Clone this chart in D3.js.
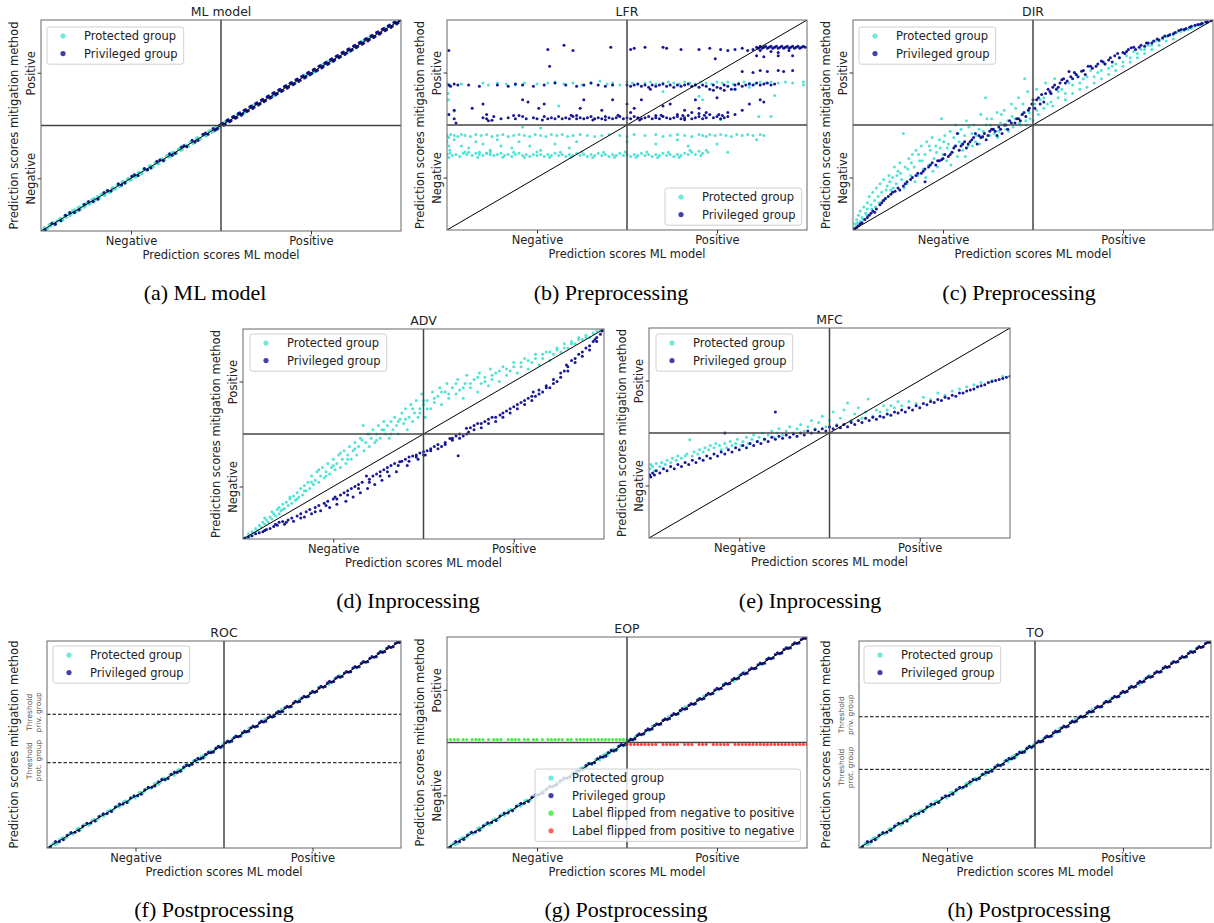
<!DOCTYPE html>
<html>
<head>
<meta charset="utf-8">
<script src="https://cdn.jsdelivr.net/npm/d3@7"></script>
<style>
  body { margin: 0; background: #fff; }
  svg text { font-family: "DejaVu Sans", sans-serif; }
</style>
</head>
<body>
<svg id="fig" width="1214" height="923"></svg>
<script>
// ---- data (scores normalised to 0..1) ----
const tickPos = [0.25, 0.75];
const tickLabels = ['Negative', 'Positive'];

// (a) ML model vs itself
const mlProt = [[0.004,0.0],[0.01,0.016],[0.015,0.008],[0.022,0.03],[0.027,0.022],[0.033,0.041],[0.04,0.034],[0.046,0.05],[0.052,0.058],[0.058,0.049],[0.065,0.072],[0.071,0.064],[0.078,0.086],[0.084,0.079],[0.09,0.097],[0.097,0.09],[0.103,0.111],[0.11,0.104],[0.117,0.125],[0.123,0.118],[0.13,0.135],[0.137,0.13],[0.144,0.152],[0.15,0.143],[0.157,0.165],[0.163,0.158],[0.17,0.176],[0.178,0.171],[0.185,0.193],[0.192,0.185],[0.2,0.206],[0.207,0.2],[0.214,0.222],[0.221,0.213],[0.229,0.236],[0.236,0.231],[0.244,0.25],[0.251,0.244],[0.258,0.266],[0.266,0.259],[0.273,0.28],[0.281,0.274],[0.289,0.296],[0.296,0.29],[0.304,0.31],[0.312,0.305],[0.32,0.327],[0.328,0.32],[0.336,0.343],[0.344,0.336],[0.352,0.36],[0.36,0.353],[0.368,0.374],[0.377,0.37],[0.385,0.393],[0.393,0.386],[0.401,0.408],[0.41,0.402],[0.418,0.427],[0.427,0.419],[0.435,0.443],[0.444,0.437],[0.452,0.46],[0.461,0.453],[0.47,0.477],[0.479,0.471],[0.488,0.495],[0.497,0.49],[0.51,0.516],[0.527,0.521],[0.545,0.553],[0.566,0.559],[0.588,0.596],[0.61,0.603],[0.633,0.641],[0.657,0.65],[0.682,0.69],[0.706,0.699],[0.731,0.739],[0.757,0.75],[0.783,0.79],[0.81,0.803],[0.838,0.846],[0.866,0.859],[0.895,0.902],[0.925,0.918],[0.955,0.962],
  [0.008,0.012],[0.019,0.013],[0.025,0.032],[0.037,0.029],[0.043,0.044],[0.055,0.06],[0.061,0.053],[0.069,0.077],[0.081,0.074],[0.087,0.094],[0.094,0.101],[0.1,0.095],[0.108,0.115],[0.12,0.113],[0.127,0.134],[0.134,0.127],[0.141,0.148],[0.148,0.155],[0.16,0.153],[0.167,0.174],[0.175,0.168],[0.182,0.19],[0.189,0.181],[0.197,0.204],[0.204,0.197],[0.211,0.219],[0.218,0.211],[0.225,0.232],[0.233,0.226],[0.24,0.248],[0.247,0.239],[0.255,0.262],[0.262,0.255],[0.27,0.277],[0.278,0.27],[0.285,0.293],[0.293,0.285],[0.3,0.308],[0.308,0.3],[0.316,0.322],[0.324,0.317],[0.332,0.34],[0.34,0.332],[0.348,0.355],[0.356,0.349],[0.364,0.372],[0.373,0.365],[0.381,0.388],[0.389,0.382],[0.397,0.404],[0.406,0.399],[0.414,0.421],[0.422,0.415],[0.431,0.438],[0.44,0.432],[0.448,0.455],[0.457,0.45],[0.466,0.473],[0.475,0.467],[0.484,0.49],[0.493,0.487],[0.52,0.527],[0.556,0.55],[0.6,0.607],[0.645,0.639],[0.694,0.701],[0.745,0.739],[0.797,0.804],[0.852,0.846],[0.91,0.915]];
const mlPriv = [[0.012,0.004],[0.03,0.036],[0.055,0.048],[0.08,0.088],[0.106,0.099],[0.132,0.14],[0.158,0.151],[0.175,0.182],[0.195,0.19],[0.215,0.224],[0.233,0.227],[0.252,0.26],[0.27,0.263],[0.287,0.296],[0.305,0.298],[0.322,0.33],[0.34,0.333],[0.357,0.366],[0.373,0.368],[0.39,0.398],[0.405,0.399],[0.42,0.43],[0.436,0.429],[0.45,0.459],[0.464,0.458],[0.478,0.486],[0.49,0.484],[0.5,0.507],[0.508,0.501],[0.516,0.524],[0.524,0.518],[0.532,0.54],[0.54,0.534],[0.548,0.557],[0.556,0.549],[0.564,0.572],[0.572,0.566],[0.58,0.589],[0.588,0.581],[0.596,0.604],[0.604,0.597],[0.612,0.621],[0.62,0.613],[0.628,0.636],[0.636,0.629],[0.644,0.653],[0.652,0.645],[0.66,0.668],[0.668,0.661],[0.676,0.685],[0.684,0.677],[0.692,0.7],[0.7,0.693],[0.708,0.717],[0.716,0.709],[0.724,0.732],[0.732,0.725],[0.74,0.749],[0.748,0.741],[0.756,0.764],[0.764,0.757],[0.772,0.781],[0.78,0.773],[0.788,0.796],[0.796,0.789],[0.804,0.813],[0.812,0.805],[0.82,0.828],[0.828,0.821],[0.836,0.845],[0.844,0.837],[0.852,0.86],[0.86,0.853],[0.868,0.877],[0.876,0.869],[0.884,0.892],[0.892,0.885],[0.9,0.909],[0.908,0.901],[0.916,0.924],[0.924,0.917],[0.932,0.941],[0.94,0.933],[0.948,0.956],[0.956,0.949],[0.964,0.972],[0.972,0.965],[0.98,0.988],[0.988,0.981],[0.996,0.998],
  [0.04,0.032],[0.068,0.075],[0.093,0.087],[0.12,0.127],[0.145,0.139],[0.185,0.192],[0.224,0.218],[0.26,0.267],[0.296,0.29],[0.33,0.337],[0.365,0.359],[0.397,0.404],[0.428,0.422],[0.457,0.464],[0.484,0.478],[0.495,0.5],[0.504,0.511],[0.512,0.506],[0.52,0.527],[0.528,0.522],[0.536,0.544],[0.544,0.538],[0.552,0.56],[0.56,0.554],[0.568,0.576],[0.576,0.57],[0.584,0.592],[0.592,0.586],[0.6,0.608],[0.608,0.602],[0.616,0.624],[0.624,0.618],[0.632,0.64],[0.64,0.634],[0.648,0.656],[0.656,0.65],[0.664,0.672],[0.672,0.666],[0.68,0.688],[0.688,0.682],[0.696,0.704],[0.704,0.698],[0.712,0.72],[0.72,0.714],[0.728,0.736],[0.736,0.73],[0.744,0.752],[0.752,0.746],[0.76,0.768],[0.768,0.762],[0.776,0.784],[0.784,0.778],[0.792,0.8],[0.8,0.794],[0.808,0.816],[0.816,0.81],[0.824,0.832],[0.832,0.826],[0.84,0.848],[0.848,0.842],[0.856,0.864],[0.864,0.858],[0.872,0.88],[0.88,0.874],[0.888,0.896],[0.896,0.89],[0.904,0.912],[0.912,0.906],[0.92,0.928],[0.928,0.922],[0.936,0.944],[0.944,0.938],[0.952,0.96],[0.96,0.954],[0.968,0.976],[0.976,0.97],[0.984,0.99],[0.992,0.987]];

// (b) LFR
const lfrProt = [[0.0,0.70],[0.006,0.69],[0.04,0.695],[0.1,0.70],[0.115,0.69],[0.14,0.70],[0.165,0.695],[0.19,0.69],[0.215,0.70],[0.25,0.695],[0.28,0.70],[0.3,0.705],[0.325,0.695],[0.35,0.70],[0.375,0.69],[0.4,0.70],[0.425,0.71],[0.445,0.695],[0.46,0.70],[0.48,0.69],[0.5,0.705],[0.515,0.70],[0.53,0.695],[0.55,0.70],[0.565,0.705],[0.58,0.695],[0.6,0.70],[0.615,0.705],[0.63,0.70],[0.645,0.695],[0.66,0.705],[0.675,0.70],[0.69,0.695],[0.705,0.705],[0.72,0.70],[0.735,0.695],[0.75,0.705],[0.765,0.70],[0.78,0.705],[0.795,0.695],[0.81,0.70],[0.825,0.705],[0.84,0.70],[0.855,0.695],[0.87,0.705],[0.885,0.70],[0.9,0.705],[0.92,0.70],[0.94,0.705],[0.96,0.70],[0.99,0.705],[0.99,0.69],
  [0.003,0.65],[0.004,0.62],[0.02,0.565],[0.31,0.59],[0.21,0.49],[0.26,0.486],[0.7,0.637],[0.71,0.62],[0.76,0.525],[0.866,0.54],[0.9,0.54],[0.91,0.64],[0.8,0.67],[0.84,0.68],[0.6,0.66],
  [0.0,0.45],[0.005,0.44],[0.01,0.455],[0.02,0.45],[0.03,0.445],[0.04,0.455],[0.05,0.45],[0.065,0.445],[0.08,0.455],[0.095,0.45],[0.11,0.455],[0.125,0.445],[0.14,0.45],[0.155,0.455],[0.17,0.445],[0.185,0.45],[0.2,0.455],[0.215,0.45],[0.23,0.445],[0.245,0.455],[0.26,0.45],[0.275,0.445],[0.29,0.455],[0.305,0.45],[0.32,0.455],[0.335,0.445],[0.35,0.45],[0.37,0.455],[0.39,0.45],[0.41,0.445],[0.43,0.45],[0.45,0.455],[0.48,0.45],[0.5,0.445],[0.52,0.455],[0.55,0.45],[0.58,0.455],[0.6,0.445],[0.62,0.45],[0.64,0.455],[0.66,0.45],[0.68,0.445],[0.7,0.455],[0.71,0.45],[0.72,0.445],[0.73,0.455],[0.745,0.45],[0.76,0.455],[0.775,0.45],[0.79,0.445],[0.805,0.455],[0.82,0.45],[0.835,0.455],[0.85,0.45],[0.87,0.455],[0.88,0.45],
  [0.0,0.42],[0.005,0.40],[0.008,0.38],[0.02,0.43],[0.04,0.40],[0.06,0.39],[0.08,0.42],[0.1,0.41],[0.12,0.38],[0.14,0.43],[0.15,0.40],[0.18,0.39],[0.2,0.42],[0.23,0.40],[0.26,0.38],[0.3,0.41],[0.34,0.39],[0.36,0.42],[0.5,0.42],[0.58,0.41],[0.64,0.43],[0.67,0.40],[0.72,0.38],[0.75,0.41],[0.78,0.37],[0.86,0.43],[0.09,0.37],[0.11,0.365],[0.06,0.37],
  [0.0,0.36],[0.008,0.365],[0.015,0.355],[0.025,0.36],[0.035,0.35],[0.045,0.365],[0.055,0.36],[0.07,0.355],[0.08,0.365],[0.09,0.36],[0.1,0.355],[0.11,0.365],[0.12,0.36],[0.13,0.355],[0.14,0.36],[0.15,0.365],[0.16,0.355],[0.17,0.36],[0.18,0.35],[0.19,0.36],[0.2,0.365],[0.21,0.355],[0.22,0.36],[0.23,0.35],[0.24,0.36],[0.25,0.355],[0.26,0.36],[0.27,0.35],[0.28,0.36],[0.29,0.355],[0.3,0.365],[0.31,0.355],[0.32,0.36],[0.33,0.35],[0.34,0.36],[0.35,0.355],[0.36,0.365],[0.37,0.355],[0.38,0.36],[0.39,0.35],[0.4,0.36],[0.41,0.355],[0.42,0.365],[0.43,0.355],[0.44,0.36],[0.45,0.35],[0.46,0.36],[0.47,0.355],[0.48,0.365],[0.49,0.355],[0.5,0.36],[0.51,0.35],[0.52,0.36],[0.53,0.355],[0.54,0.365],[0.55,0.355],[0.56,0.36],[0.57,0.35],[0.58,0.36],[0.59,0.355],[0.6,0.365],[0.61,0.355],[0.62,0.36],[0.63,0.35],[0.64,0.36],[0.65,0.355],[0.66,0.365],[0.67,0.36],[0.68,0.37],[0.69,0.36],[0.7,0.375],[0.71,0.365],[0.725,0.37],
  [0.005,0.345],[0.05,0.372],[0.085,0.345],[0.12,0.372],[0.155,0.347],[0.185,0.37],[0.215,0.345],[0.25,0.372],[0.285,0.346],[0.315,0.37],[0.345,0.347],[0.375,0.371],[0.405,0.345],[0.435,0.37],[0.465,0.346],[0.495,0.371],[0.525,0.346],[0.555,0.372],[0.585,0.345],[0.615,0.37],[0.645,0.347],[0.675,0.38],[0.705,0.355]];
const lfrPriv = [[0.005,0.855],[0.28,0.86],[0.325,0.88],[0.35,0.855],[0.455,0.87],[0.51,0.86],[0.52,0.865],[0.55,0.87],[0.6,0.87],[0.61,0.865],[0.65,0.86],[0.7,0.86],[0.73,0.865],[0.76,0.86],[0.78,0.855],[0.8,0.86],[0.82,0.865],[0.835,0.855],[0.85,0.86],
  [0.86,0.87],[0.865,0.865],[0.87,0.875],[0.875,0.865],[0.88,0.87],[0.885,0.875],[0.89,0.865],[0.895,0.87],[0.9,0.875],[0.905,0.865],[0.91,0.87],[0.915,0.875],[0.92,0.865],[0.925,0.87],[0.93,0.875],[0.935,0.865],[0.94,0.87],[0.945,0.875],[0.95,0.865],[0.955,0.87],[0.96,0.875],[0.965,0.865],[0.97,0.87],[0.975,0.875],[0.98,0.865],[0.985,0.87],[0.99,0.875],[0.995,0.87],[0.87,0.855],[0.9,0.85],[0.95,0.855],[0.92,0.845],
  [0.285,0.78],[0.745,0.815],[0.86,0.83],[0.88,0.825],[0.92,0.83],[0.96,0.83],[0.82,0.755],[0.85,0.75],[0.87,0.76],[0.89,0.755],[0.92,0.76],[0.935,0.755],[0.96,0.76],
  [0.005,0.69],[0.01,0.685],[0.02,0.695],[0.03,0.69],[0.06,0.69],[0.09,0.685],[0.14,0.69],[0.17,0.685],[0.19,0.695],[0.21,0.69],[0.24,0.685],[0.27,0.69],[0.3,0.7],[0.33,0.69],[0.36,0.685],[0.38,0.69],[0.4,0.7],[0.42,0.69],[0.44,0.685],[0.46,0.69],
  [0.5,0.69],[0.51,0.685],[0.52,0.69],[0.53,0.695],[0.54,0.685],[0.55,0.69],[0.56,0.68],[0.57,0.69],[0.58,0.685],[0.59,0.69],[0.6,0.695],[0.61,0.685],[0.62,0.69],[0.63,0.68],[0.64,0.69],[0.65,0.685],[0.66,0.69],[0.67,0.695],[0.68,0.685],[0.69,0.69],[0.7,0.68],[0.71,0.69],[0.72,0.685],[0.73,0.67],[0.74,0.69],[0.75,0.68],[0.76,0.675],[0.77,0.69],[0.78,0.685],[0.79,0.67],[0.8,0.69],[0.81,0.695],[0.82,0.685],[0.83,0.69],[0.84,0.695],[0.85,0.69],[0.86,0.7],[0.87,0.69],[0.88,0.695],[0.89,0.7],[0.9,0.69],[0.91,0.695],[0.565,0.67],[0.74,0.665],[0.77,0.665],[0.8,0.67],
  [0.07,0.58],[0.02,0.57],[0.1,0.6],[0.11,0.55],[0.115,0.52],[0.21,0.62],[0.225,0.61],[0.255,0.58],[0.27,0.6],[0.37,0.58],[0.38,0.62],[0.43,0.57],[0.46,0.62],[0.5,0.6],[0.51,0.56],[0.52,0.58],[0.54,0.62],[0.6,0.59],[0.62,0.6],[0.64,0.55],[0.66,0.57],[0.69,0.62],[0.7,0.58],[0.68,0.56],[0.75,0.63],[0.78,0.56],[0.8,0.55],[0.82,0.57],[0.84,0.6],[0.87,0.62],[0.88,0.61],
  [0.005,0.55],[0.02,0.53],[0.025,0.51],[0.1,0.535],[0.11,0.53],[0.13,0.54],[0.15,0.53],[0.17,0.535],[0.19,0.53],[0.21,0.54],[0.22,0.53],[0.24,0.535],[0.25,0.53],[0.27,0.54],[0.28,0.53],[0.29,0.535],[0.3,0.53],[0.31,0.54],[0.32,0.53],[0.33,0.535],[0.34,0.53],[0.35,0.54],[0.36,0.53],[0.37,0.535],[0.38,0.53],[0.39,0.535],[0.4,0.54],[0.41,0.53],[0.42,0.535],[0.43,0.53],[0.44,0.54],[0.45,0.535],[0.46,0.53],[0.47,0.535],[0.48,0.54],[0.49,0.53],[0.5,0.535],[0.51,0.53],[0.52,0.54],[0.53,0.535],[0.54,0.53],[0.55,0.535],[0.56,0.54],[0.57,0.53],[0.58,0.535],[0.59,0.53],[0.6,0.54],[0.61,0.535],[0.62,0.53],[0.63,0.535],[0.64,0.54],[0.65,0.53],[0.66,0.535],[0.67,0.545],[0.68,0.53],[0.69,0.535],[0.7,0.54],[0.71,0.53],[0.72,0.535],[0.73,0.55],[0.74,0.535],[0.75,0.54],[0.76,0.53],[0.77,0.535],[0.78,0.54],[0.2,0.545],[0.36,0.545],[0.44,0.525],[0.58,0.545],[0.66,0.525],[0.7,0.555],[0.72,0.56],
  [0.125,0.523],[0.185,0.545],[0.265,0.524],[0.345,0.546],[0.405,0.524],[0.475,0.546],[0.535,0.524],[0.595,0.546],[0.655,0.545],[0.715,0.547],[0.755,0.55],[0.765,0.545]];

// (c) DIR
const dirProt = [[0.003,0.01],[0.005,0.03],[0.01,0.02],[0.01,0.05],[0.015,0.07],[0.02,0.04],[0.02,0.09],[0.025,0.06],[0.03,0.11],[0.035,0.08],[0.04,0.13],[0.04,0.1],[0.045,0.16],[0.05,0.12],[0.055,0.18],[0.06,0.14],[0.065,0.2],[0.07,0.16],[0.075,0.22],[0.08,0.18],[0.085,0.24],[0.09,0.15],[0.095,0.21],[0.1,0.26],[0.105,0.19],[0.11,0.25],[0.115,0.3],[0.12,0.22],[0.125,0.28],[0.13,0.32],[0.135,0.24],[0.14,0.46],[0.145,0.3],[0.15,0.22],[0.155,0.34],[0.16,0.26],[0.165,0.36],[0.17,0.3],[0.175,0.38],[0.18,0.26],[0.185,0.33],[0.19,0.4],[0.195,0.29],[0.2,0.36],[0.205,0.42],[0.21,0.31],[0.215,0.38],[0.22,0.44],[0.225,0.34],[0.23,0.4],[0.235,0.3],[0.24,0.43],[0.246,0.53],[0.25,0.36],[0.255,0.45],[0.26,0.33],[0.265,0.41],[0.27,0.47],[0.275,0.37],[0.28,0.44],[0.285,0.5],[0.29,0.35],[0.295,0.42],[0.3,0.48],[0.305,0.38],[0.31,0.45],[0.315,0.52],[0.32,0.4],[0.33,0.46],[0.335,0.5],[0.34,0.42],[0.35,0.48],[0.355,0.55],[0.36,0.44],[0.368,0.63],[0.37,0.5],[0.38,0.45],[0.385,0.53],[0.39,0.48],[0.4,0.56],[0.405,0.47],[0.41,0.51],[0.42,0.57],[0.425,0.48],[0.43,0.52],[0.44,0.6],[0.445,0.49],[0.45,0.53],[0.46,0.63],[0.465,0.5],[0.47,0.55],[0.477,0.72],[0.48,0.52],[0.485,0.66],[0.49,0.56],[0.5,0.52],[0.505,0.6],[0.51,0.67],[0.515,0.55],[0.52,0.62],[0.53,0.58],[0.535,0.7],[0.54,0.6],[0.55,0.65],[0.555,0.59],[0.56,0.72],[0.57,0.63],[0.58,0.67],[0.59,0.62],[0.6,0.7],[0.61,0.65],[0.62,0.74],[0.63,0.67],[0.64,0.72],[0.65,0.68],[0.66,0.76],[0.67,0.7],[0.68,0.75],[0.69,0.72],[0.7,0.79],[0.71,0.74],[0.72,0.78],[0.73,0.76],[0.74,0.82],[0.75,0.78],[0.76,0.83],[0.77,0.8],[0.78,0.85],[0.79,0.82],[0.8,0.86],[0.81,0.84],[0.82,0.88],[0.83,0.86],[0.84,0.9],[0.85,0.88],[0.86,0.91],[0.87,0.9],[0.88,0.93],[0.89,0.91],[0.9,0.94],[0.92,0.95],[0.94,0.96],[0.96,0.975],[0.98,0.99],
  [0.012,0.035],[0.028,0.05],[0.038,0.07],[0.052,0.1],[0.062,0.11],[0.072,0.13],[0.082,0.14],[0.092,0.19],[0.102,0.23],[0.112,0.2],[0.122,0.26],[0.132,0.27],[0.142,0.2],[0.152,0.29],[0.162,0.32],[0.172,0.23],[0.182,0.36],[0.192,0.33],[0.202,0.25],[0.212,0.4],[0.222,0.28],[0.232,0.37],[0.242,0.39],[0.252,0.42],[0.262,0.39],[0.272,0.31],[0.282,0.4],[0.292,0.46],[0.302,0.41],[0.312,0.35],[0.322,0.49],[0.332,0.4],[0.342,0.45],[0.352,0.41],[0.362,0.47],[0.372,0.53],[0.382,0.5],[0.392,0.46],[0.402,0.44],[0.412,0.55],[0.422,0.5],[0.432,0.47],[0.442,0.54],[0.452,0.58],[0.462,0.51],[0.472,0.6],[0.482,0.5],[0.492,0.53],[0.51,0.57],[0.53,0.63],[0.55,0.61],[0.57,0.66],[0.59,0.65],[0.61,0.69],[0.63,0.7],[0.65,0.73],[0.67,0.73],[0.69,0.76],[0.71,0.77],[0.73,0.79],[0.75,0.8],[0.77,0.82],[0.79,0.84],[0.81,0.86],[0.83,0.88],[0.85,0.9],[0.87,0.92],[0.89,0.93],[0.91,0.945],[0.93,0.955],[0.95,0.97],[0.97,0.98]];
const dirPriv = [[0.005,0.006],[0.015,0.02],[0.025,0.035],[0.033,0.05],[0.04,0.06],[0.05,0.08],[0.055,0.09],[0.065,0.1],[0.075,0.12],[0.085,0.14],[0.098,0.16],[0.105,0.17],[0.117,0.185],[0.125,0.2],[0.14,0.21],[0.15,0.23],[0.16,0.24],[0.175,0.26],[0.19,0.27],[0.2,0.23],[0.2,0.29],[0.21,0.3],[0.22,0.32],[0.23,0.31],[0.24,0.33],[0.246,0.335],[0.255,0.36],[0.265,0.35],[0.275,0.37],[0.285,0.4],[0.29,0.46],[0.295,0.38],[0.305,0.41],[0.315,0.39],[0.325,0.42],[0.33,0.43],[0.34,0.46],[0.345,0.41],[0.355,0.44],[0.36,0.445],[0.37,0.43],[0.38,0.47],[0.39,0.48],[0.4,0.45],[0.405,0.49],[0.414,0.46],[0.42,0.5],[0.43,0.48],[0.44,0.51],[0.45,0.51],[0.46,0.53],[0.47,0.55],[0.48,0.54],[0.487,0.57],[0.497,0.6],[0.5,0.62],[0.505,0.58],[0.515,0.63],[0.524,0.645],[0.53,0.61],[0.542,0.67],[0.55,0.65],[0.56,0.69],[0.57,0.68],[0.58,0.715],[0.59,0.7],[0.6,0.755],[0.61,0.72],[0.62,0.74],[0.635,0.756],[0.645,0.74],[0.653,0.78],[0.665,0.77],[0.68,0.79],[0.69,0.805],[0.7,0.79],[0.715,0.82],[0.727,0.83],[0.74,0.82],[0.75,0.845],[0.76,0.85],[0.773,0.868],[0.785,0.86],[0.8,0.88],[0.81,0.875],[0.82,0.89],[0.835,0.9],[0.85,0.905],[0.866,0.924],[0.88,0.93],[0.895,0.94],[0.912,0.955],[0.925,0.96],[0.94,0.97],[0.958,0.979],[0.97,0.985],[0.98,0.99],[0.995,0.996],
  [0.01,0.012],[0.02,0.03],[0.045,0.07],[0.06,0.085],[0.08,0.13],[0.09,0.15],[0.11,0.18],[0.13,0.19],[0.145,0.22],[0.165,0.25],[0.18,0.27],[0.195,0.28],[0.215,0.31],[0.235,0.33],[0.25,0.34],[0.27,0.36],[0.28,0.39],[0.3,0.4],[0.31,0.42],[0.32,0.41],[0.335,0.44],[0.35,0.45],[0.365,0.46],[0.375,0.45],[0.385,0.48],[0.395,0.47],[0.41,0.48],[0.425,0.5],[0.435,0.52],[0.455,0.53],[0.465,0.52],[0.475,0.56],[0.49,0.58],[0.51,0.62],[0.52,0.6],[0.535,0.65],[0.547,0.66],[0.555,0.68],[0.565,0.67],[0.575,0.7],[0.585,0.72],[0.595,0.71],[0.605,0.73],[0.615,0.75],[0.625,0.73],[0.64,0.76],[0.66,0.78],[0.675,0.78],[0.695,0.8],[0.71,0.81],[0.72,0.8],[0.735,0.84],[0.755,0.84],[0.765,0.86],[0.78,0.87],[0.795,0.87],[0.815,0.89],[0.83,0.89],[0.845,0.91],[0.86,0.915],[0.875,0.925],[0.89,0.935],[0.905,0.95],[0.92,0.955],[0.935,0.965],[0.95,0.975],[0.965,0.98],[0.985,0.99]];

// (d) ADV
const advProt = [[0.003,0.005],[0.01,0.01],[0.015,0.025],[0.02,0.015],[0.025,0.035],[0.03,0.03],[0.035,0.05],[0.04,0.04],[0.045,0.065],[0.05,0.055],[0.055,0.08],[0.06,0.07],[0.065,0.09],[0.07,0.08],[0.075,0.105],[0.08,0.095],[0.085,0.12],[0.09,0.11],[0.095,0.14],[0.1,0.12],[0.1,0.15],[0.105,0.135],[0.11,0.165],[0.115,0.145],[0.12,0.175],[0.125,0.16],[0.13,0.19],[0.135,0.17],[0.14,0.205],[0.145,0.185],[0.15,0.22],[0.155,0.2],[0.16,0.24],[0.165,0.21],[0.17,0.255],[0.175,0.23],[0.18,0.27],[0.185,0.24],[0.19,0.3],[0.195,0.26],[0.2,0.28],[0.205,0.32],[0.21,0.27],[0.215,0.3],[0.22,0.34],[0.225,0.29],[0.23,0.32],[0.235,0.36],[0.24,0.31],[0.245,0.34],[0.25,0.38],[0.255,0.33],[0.26,0.36],[0.265,0.4],[0.27,0.34],[0.275,0.38],[0.28,0.42],[0.285,0.36],[0.29,0.4],[0.295,0.44],[0.3,0.38],[0.305,0.42],[0.31,0.46],[0.315,0.4],[0.32,0.44],[0.325,0.48],[0.333,0.54],[0.335,0.42],[0.34,0.46],[0.345,0.5],[0.35,0.44],[0.355,0.48],[0.36,0.52],[0.365,0.46],[0.37,0.5],[0.375,0.54],[0.38,0.48],[0.385,0.52],[0.39,0.56],[0.395,0.5],[0.4,0.54],[0.405,0.48],[0.41,0.56],[0.415,0.52],[0.42,0.58],[0.425,0.54],[0.43,0.5],[0.435,0.57],[0.44,0.6],[0.445,0.55],[0.45,0.62],[0.455,0.52],[0.46,0.58],[0.465,0.64],[0.47,0.56],[0.475,0.6],[0.48,0.66],[0.485,0.58],[0.49,0.62],[0.495,0.69],[0.5,0.64],[0.505,0.58],[0.51,0.66],[0.52,0.62],[0.525,0.7],[0.53,0.65],[0.54,0.68],[0.545,0.72],[0.55,0.64],[0.56,0.7],[0.565,0.74],[0.57,0.67],[0.58,0.72],[0.59,0.69],[0.595,0.76],[0.6,0.71],[0.61,0.67],[0.615,0.74],[0.62,0.78],[0.63,0.72],[0.64,0.76],[0.65,0.7],[0.655,0.79],[0.66,0.74],[0.67,0.77],[0.68,0.73],[0.685,0.81],[0.69,0.76],[0.7,0.79],[0.71,0.75],[0.72,0.82],[0.73,0.78],[0.74,0.8],[0.75,0.84],[0.76,0.79],[0.77,0.82],[0.78,0.86],[0.79,0.81],[0.8,0.84],[0.81,0.88],[0.82,0.83],[0.83,0.86],[0.84,0.89],[0.85,0.85],[0.86,0.88],[0.87,0.91],[0.88,0.89],[0.89,0.93],[0.9,0.91],[0.91,0.94],[0.92,0.93],[0.93,0.96],[0.94,0.95],[0.95,0.97],[0.96,0.96],[0.97,0.98],[0.98,0.99],[0.99,0.995],
  [0.06,0.1],[0.08,0.13],[0.11,0.14],[0.13,0.2],[0.15,0.19],[0.17,0.23],[0.19,0.27],[0.21,0.33],[0.23,0.3],[0.25,0.35],[0.27,0.41],[0.29,0.38],[0.31,0.43],[0.33,0.47],[0.35,0.5],[0.37,0.47],[0.39,0.52],[0.41,0.5],[0.43,0.56],[0.45,0.57],[0.47,0.62],[0.49,0.6],[0.5,0.66],[0.51,0.62],[0.53,0.67],[0.55,0.7],[0.57,0.69],[0.59,0.74],[0.61,0.72],[0.63,0.74],[0.65,0.77],[0.67,0.75],[0.69,0.78],[0.71,0.8],[0.73,0.81],[0.75,0.82],[0.77,0.84],[0.79,0.85],[0.81,0.86],[0.83,0.88],[0.85,0.89],[0.87,0.9],[0.89,0.91],[0.91,0.93],[0.93,0.95],[0.95,0.96]];
const advPriv = [[0.005,0.003],[0.015,0.01],[0.025,0.015],[0.035,0.025],[0.045,0.03],[0.055,0.035],[0.065,0.045],[0.075,0.05],[0.085,0.06],[0.095,0.065],[0.1,0.08],[0.11,0.083],[0.115,0.07],[0.125,0.09],[0.135,0.1],[0.14,0.085],[0.15,0.11],[0.16,0.12],[0.17,0.105],[0.175,0.13],[0.185,0.14],[0.19,0.12],[0.2,0.15],[0.21,0.16],[0.215,0.135],[0.225,0.17],[0.235,0.18],[0.24,0.15],[0.25,0.19],[0.255,0.2],[0.26,0.165],[0.27,0.21],[0.28,0.22],[0.285,0.18],[0.29,0.23],[0.3,0.24],[0.305,0.2],[0.31,0.25],[0.32,0.26],[0.325,0.22],[0.33,0.27],[0.342,0.3],[0.345,0.24],[0.35,0.285],[0.36,0.3],[0.365,0.26],[0.37,0.31],[0.38,0.32],[0.385,0.28],[0.39,0.33],[0.4,0.34],[0.405,0.3],[0.41,0.35],[0.42,0.36],[0.425,0.32],[0.434,0.368],[0.44,0.37],[0.45,0.38],[0.455,0.35],[0.46,0.39],[0.47,0.395],[0.48,0.4],[0.485,0.38],[0.49,0.41],[0.5,0.416],[0.505,0.4],[0.51,0.42],[0.52,0.43],[0.53,0.44],[0.54,0.45],[0.55,0.44],[0.56,0.46],[0.573,0.479],[0.58,0.47],[0.59,0.49],[0.596,0.397],[0.6,0.5],[0.61,0.49],[0.619,0.527],[0.625,0.51],[0.63,0.53],[0.64,0.52],[0.65,0.55],[0.66,0.53],[0.67,0.56],[0.68,0.55],[0.69,0.58],[0.7,0.56],[0.712,0.59],[0.72,0.58],[0.73,0.61],[0.74,0.6],[0.75,0.63],[0.76,0.62],[0.77,0.65],[0.78,0.64],[0.79,0.67],[0.8,0.66],[0.804,0.7],[0.81,0.68],[0.82,0.71],[0.83,0.7],[0.84,0.73],[0.85,0.72],[0.86,0.76],[0.87,0.75],[0.88,0.79],[0.89,0.8],[0.896,0.829],[0.9,0.82],[0.91,0.85],[0.92,0.86],[0.93,0.88],[0.94,0.89],[0.95,0.91],[0.96,0.92],[0.97,0.94],[0.975,0.95],[0.98,0.96],[0.99,0.975],[0.995,0.99],
  [0.06,0.04],[0.09,0.07],[0.12,0.08],[0.16,0.1],[0.2,0.13],[0.23,0.16],[0.26,0.19],[0.29,0.21],[0.32,0.24],[0.35,0.27],[0.38,0.3],[0.4,0.32],[0.43,0.35],[0.46,0.37],[0.48,0.39],[0.5,0.4],[0.52,0.42],[0.54,0.43],[0.56,0.45],[0.58,0.48],[0.6,0.48],[0.62,0.5],[0.64,0.54],[0.66,0.55],[0.68,0.57],[0.7,0.58],[0.72,0.6],[0.74,0.62],[0.76,0.64],[0.78,0.66],[0.8,0.68],[0.82,0.69],[0.84,0.72],[0.86,0.74],[0.88,0.77],[0.9,0.8],[0.92,0.84],[0.94,0.87],[0.96,0.9],[0.98,0.94]];

// (e) MFC
const mfcProt = [[0.003,0.33],[0.005,0.35],[0.01,0.34],[0.015,0.32],[0.02,0.355],[0.03,0.34],[0.035,0.36],[0.045,0.35],[0.05,0.37],[0.06,0.36],[0.065,0.38],[0.075,0.37],[0.08,0.39],[0.09,0.38],[0.1,0.39],[0.105,0.4],[0.113,0.468],[0.12,0.39],[0.125,0.41],[0.135,0.4],[0.14,0.42],[0.15,0.41],[0.155,0.43],[0.165,0.42],[0.17,0.44],[0.18,0.43],[0.185,0.45],[0.195,0.44],[0.2,0.42],[0.21,0.45],[0.215,0.43],[0.225,0.46],[0.23,0.44],[0.24,0.45],[0.245,0.47],[0.255,0.44],[0.26,0.46],[0.27,0.48],[0.275,0.45],[0.285,0.47],[0.29,0.49],[0.3,0.46],[0.305,0.48],[0.315,0.5],[0.32,0.47],[0.33,0.49],[0.34,0.51],[0.345,0.48],[0.355,0.5],[0.36,0.52],[0.37,0.49],[0.38,0.51],[0.39,0.53],[0.4,0.5],[0.41,0.52],[0.42,0.54],[0.43,0.51],[0.44,0.53],[0.45,0.56],[0.46,0.52],[0.47,0.55],[0.48,0.58],[0.49,0.53],[0.5,0.56],[0.51,0.6],[0.52,0.54],[0.53,0.57],[0.54,0.61],[0.55,0.643],[0.56,0.56],[0.57,0.59],[0.58,0.62],[0.59,0.57],[0.6,0.6],[0.607,0.662],[0.62,0.58],[0.63,0.61],[0.64,0.6],[0.65,0.63],[0.66,0.61],[0.67,0.63],[0.68,0.62],[0.69,0.65],[0.7,0.63],[0.72,0.65],[0.74,0.64],[0.76,0.67],[0.78,0.66],[0.8,0.69],[0.82,0.68],[0.84,0.7],[0.86,0.71],[0.88,0.72],[0.9,0.73],[0.92,0.74],[0.95,0.75],[0.98,0.77]];
const mfcPriv = [[0.002,0.3],[0.005,0.29],[0.01,0.31],[0.015,0.3],[0.02,0.32],[0.03,0.31],[0.04,0.33],[0.05,0.32],[0.06,0.34],[0.07,0.33],[0.08,0.35],[0.09,0.34],[0.1,0.36],[0.11,0.35],[0.12,0.37],[0.13,0.36],[0.14,0.38],[0.15,0.37],[0.16,0.39],[0.17,0.38],[0.18,0.4],[0.19,0.39],[0.2,0.41],[0.21,0.4],[0.21,0.5],[0.22,0.42],[0.23,0.41],[0.24,0.43],[0.25,0.42],[0.26,0.44],[0.27,0.43],[0.28,0.45],[0.29,0.44],[0.3,0.46],[0.31,0.45],[0.32,0.47],[0.33,0.46],[0.34,0.48],[0.35,0.47],[0.35,0.6],[0.36,0.485],[0.37,0.475],[0.38,0.49],[0.39,0.48],[0.4,0.495],[0.41,0.485],[0.42,0.5],[0.43,0.49],[0.44,0.51],[0.45,0.5],[0.46,0.515],[0.47,0.505],[0.48,0.52],[0.49,0.51],[0.5,0.53],[0.51,0.52],[0.52,0.535],[0.53,0.525],[0.54,0.54],[0.55,0.53],[0.56,0.55],[0.57,0.54],[0.58,0.56],[0.59,0.55],[0.6,0.57],[0.61,0.56],[0.62,0.575],[0.63,0.565],[0.64,0.58],[0.65,0.575],[0.66,0.59],[0.67,0.585],[0.68,0.6],[0.69,0.595],[0.7,0.61],[0.71,0.6],[0.72,0.62],[0.73,0.61],[0.74,0.63],[0.75,0.62],[0.76,0.64],[0.77,0.635],[0.78,0.65],[0.79,0.645],[0.8,0.66],[0.81,0.655],[0.82,0.67],[0.83,0.665],[0.84,0.68],[0.85,0.675],[0.86,0.69],[0.87,0.69],[0.88,0.7],[0.89,0.705],[0.9,0.71],[0.91,0.72],[0.92,0.725],[0.93,0.73],[0.94,0.74],[0.95,0.745],[0.96,0.75],[0.97,0.755],[0.98,0.76],[0.99,0.765],[1.0,0.77]];

// (f)-(h) postprocessing: scores stay on the diagonal
const postProt = [[0.006,0.002],[0.018,0.024],[0.029,0.021],[0.041,0.047],[0.05,0.043],[0.062,0.068],[0.073,0.066],[0.085,0.092],[0.094,0.087],[0.106,0.113],[0.118,0.11],[0.127,0.133],[0.139,0.131],[0.151,0.158],[0.16,0.154],[0.172,0.179],[0.183,0.176],[0.195,0.201],[0.204,0.198],[0.216,0.224],[0.228,0.221],[0.237,0.243],[0.249,0.242],[0.26,0.268],[0.27,0.263],[0.282,0.288],[0.293,0.287],[0.303,0.31],[0.315,0.307],[0.326,0.334],[0.336,0.329],[0.347,0.354],[0.359,0.352],[0.369,0.376],[0.38,0.373],[0.391,0.399],[0.402,0.396],[0.413,0.42],[0.424,0.417],[0.435,0.442],[0.446,0.44],[0.457,0.465],[0.468,0.461],[0.479,0.486],[0.49,0.483],[0.5,0.508],[0.514,0.509],[0.531,0.539],[0.55,0.545],[0.57,0.578],[0.593,0.587],[0.615,0.623],[0.64,0.634],[0.662,0.671],[0.688,0.681],[0.713,0.72],[0.74,0.734],[0.768,0.776],[0.797,0.79],[0.826,0.834],[0.858,0.852],[0.891,0.898],[0.93,0.924],[0.965,0.971],
  [0.012,0.014],[0.023,0.017],[0.035,0.04],[0.046,0.051],[0.056,0.052],[0.067,0.073],[0.079,0.076],[0.09,0.096],[0.1,0.098],[0.112,0.118],[0.122,0.12],[0.133,0.139],[0.145,0.142],[0.156,0.162],[0.166,0.163],[0.178,0.184],[0.189,0.186],[0.2,0.206],[0.21,0.207],[0.222,0.228],[0.232,0.229],[0.243,0.249],[0.255,0.252],[0.265,0.271],[0.276,0.274],[0.287,0.293],[0.298,0.296],[0.309,0.315],[0.32,0.318],[0.331,0.337],[0.342,0.34],[0.353,0.359],[0.364,0.362],[0.375,0.381],[0.386,0.384],[0.397,0.403],[0.408,0.406],[0.419,0.425],[0.43,0.428],[0.441,0.447],[0.452,0.45],[0.463,0.469],[0.474,0.472],[0.485,0.491],[0.495,0.499],[0.522,0.526],[0.56,0.557],[0.604,0.61],[0.651,0.648],[0.7,0.706],[0.754,0.75],[0.811,0.816],[0.874,0.87],[0.947,0.952]];
const postPriv = [[0.01,0.006],[0.024,0.031],[0.046,0.04],[0.068,0.075],[0.09,0.084],[0.113,0.12],[0.136,0.13],[0.159,0.166],[0.182,0.176],[0.205,0.212],[0.226,0.22],[0.246,0.253],[0.266,0.26],[0.286,0.293],[0.305,0.299],[0.324,0.331],[0.342,0.336],[0.36,0.367],[0.377,0.371],[0.394,0.401],[0.41,0.404],[0.426,0.433],[0.441,0.435],[0.456,0.463],[0.47,0.464],[0.484,0.491],[0.497,0.491],[0.51,0.517],[0.522,0.516],[0.534,0.541],[0.546,0.54],[0.558,0.565],[0.57,0.564],[0.582,0.589],[0.594,0.588],[0.606,0.613],[0.618,0.612],[0.63,0.637],[0.642,0.636],[0.654,0.661],[0.666,0.66],[0.678,0.685],[0.69,0.684],[0.702,0.709],[0.714,0.708],[0.726,0.733],[0.738,0.732],[0.75,0.757],[0.762,0.756],[0.774,0.781],[0.786,0.78],[0.798,0.805],[0.81,0.804],[0.822,0.829],[0.834,0.828],[0.846,0.853],[0.858,0.852],[0.87,0.877],[0.882,0.876],[0.894,0.901],[0.906,0.9],[0.918,0.925],[0.93,0.924],[0.942,0.949],[0.954,0.948],[0.966,0.973],[0.978,0.972],[0.99,0.994],
  [0.035,0.03],[0.057,0.062],[0.079,0.076],[0.101,0.106],[0.124,0.121],[0.147,0.152],[0.17,0.167],[0.193,0.198],[0.215,0.212],[0.236,0.241],[0.256,0.253],[0.276,0.281],[0.296,0.293],[0.315,0.32],[0.333,0.33],[0.351,0.356],[0.368,0.365],[0.386,0.391],[0.402,0.399],[0.418,0.423],[0.434,0.431],[0.448,0.453],[0.463,0.46],[0.477,0.482],[0.49,0.487],[0.504,0.509],[0.516,0.513],[0.528,0.533],[0.54,0.537],[0.552,0.557],[0.564,0.561],[0.576,0.581],[0.588,0.585],[0.6,0.605],[0.612,0.609],[0.624,0.629],[0.636,0.633],[0.648,0.653],[0.66,0.657],[0.672,0.677],[0.684,0.681],[0.696,0.701],[0.708,0.705],[0.72,0.725],[0.732,0.729],[0.744,0.749],[0.756,0.753],[0.768,0.773],[0.78,0.777],[0.792,0.797],[0.804,0.801],[0.816,0.821],[0.828,0.825],[0.84,0.845],[0.852,0.849],[0.864,0.869],[0.876,0.873],[0.888,0.893],[0.9,0.897],[0.912,0.917],[0.924,0.921],[0.936,0.941],[0.948,0.945],[0.96,0.965],[0.972,0.969],[0.984,0.988],[0.996,0.993]];

// (g) EOP flipped labels
const eopNegToPos = [[0.0,0.514],[0.01,0.514],[0.02,0.514],[0.03,0.514],[0.045,0.514],[0.055,0.514],[0.07,0.514],[0.08,0.514],[0.09,0.514],[0.1,0.514],[0.115,0.514],[0.13,0.514],[0.14,0.514],[0.15,0.514],[0.17,0.514],[0.18,0.514],[0.19,0.514],[0.2,0.514],[0.215,0.514],[0.225,0.514],[0.24,0.514],[0.25,0.514],[0.265,0.514],[0.28,0.514],[0.29,0.514],[0.3,0.514],[0.31,0.514],[0.32,0.514],[0.335,0.514],[0.345,0.514],[0.36,0.514],[0.37,0.514],[0.38,0.514],[0.39,0.514],[0.4,0.514],[0.41,0.514],[0.42,0.514],[0.43,0.514],[0.44,0.514],[0.45,0.514],[0.46,0.514],[0.47,0.514],[0.48,0.514],[0.49,0.514],[0.5,0.514]];
const eopPosToNeg = [[0.5,0.491],[0.51,0.491],[0.52,0.491],[0.53,0.491],[0.54,0.491],[0.55,0.491],[0.56,0.491],[0.57,0.491],[0.58,0.491],[0.6,0.491],[0.61,0.491],[0.62,0.491],[0.63,0.491],[0.64,0.491],[0.66,0.491],[0.67,0.491],[0.68,0.491],[0.7,0.491],[0.71,0.491],[0.72,0.491],[0.74,0.491],[0.75,0.491],[0.76,0.491],[0.77,0.491],[0.78,0.491],[0.8,0.491],[0.81,0.491],[0.82,0.491],[0.83,0.491],[0.84,0.491],[0.85,0.491],[0.86,0.491],[0.87,0.491],[0.88,0.491],[0.89,0.491],[0.9,0.491],[0.91,0.491],[0.92,0.491],[0.93,0.491],[0.94,0.491],[0.95,0.491],[0.96,0.491],[0.97,0.491],[0.98,0.491],[0.99,0.491],[1.0,0.491]];

// group thresholds for (f) ROC and (h) TO: [protected, privileged]
const rocThresholds = [0.412, 0.646];
const toThresholds = [0.38, 0.634];

const titles = ['ML model', 'LFR', 'DIR', 'ADV', 'MFC', 'ROC', 'EOP', 'TO'];
const captions = ['(a) ML model', '(b) Preprocessing', '(c) Preprocessing', '(d) Inprocessing',
                  '(e) Inprocessing', '(f) Postprocessing', '(g) Postprocessing', '(h) Postprocessing'];

// ---- style ----
const colors = {prot: 'turquoise', priv: 'darkblue', up: '#22ee22', down: '#ff2a2a'};
const legendText = {
    prot: 'Protected group',
    priv: 'Privileged group',
    up: 'Label flipped from negative to positive',
    down: 'Label flipped from positive to negative'
};

const panels = [
    {left: 41, top: 20, right: 401, bottom: 231, series: [['prot', mlProt], ['priv', mlPriv]], hline: true, legend: [47, 27], cap: [205, 300]},
    {left: 447, top: 20, right: 807, bottom: 230, series: [['prot', lfrProt], ['priv', lfrPriv]], hline: true, legend: [665, 188], cap: [611, 300]},
    {left: 853, top: 20, right: 1213, bottom: 230, series: [['prot', dirProt], ['priv', dirPriv]], hline: true, legend: [859, 27], cap: [1019, 300]},
    {left: 243, top: 329, right: 604, bottom: 539, series: [['prot', advProt], ['priv', advPriv]], hline: true, legend: [250, 334], cap: [408, 608]},
    {left: 649, top: 328, right: 1010, bottom: 538, series: [['prot', mfcProt], ['priv', mfcPriv]], hline: true, legend: [656, 334], cap: [810, 608]},
    {left: 47, top: 641, right: 401, bottom: 848, series: [['prot', postProt], ['priv', postPriv]], thresholds: rocThresholds, legend: [53, 646], cap: [214, 917]},
    {left: 447, top: 637, right: 807, bottom: 848, series: [['prot', postProt], ['priv', postPriv], ['up', eopNegToPos], ['down', eopPosToNeg]], hline: true, legend: [535, 769], cap: [626, 917]},
    {left: 859, top: 641, right: 1211, bottom: 848, series: [['prot', postProt], ['priv', postPriv]], thresholds: toThresholds, legend: [864, 646], cap: [1029, 917]}
];

const svg = d3.select('#fig');

panels.forEach((p, i) => drawPanel(p, i));

function drawPanel(p, i) {
    const x = d3.scaleLinear().domain([0, 1]).range([p.left, p.right]);
    const y = d3.scaleLinear().domain([0, 1]).range([p.bottom, p.top]);
    const g = svg.append('g');

    g.append('clipPath').attr('id', 'clip' + i)
        .append('rect')
        .attr('x', p.left).attr('y', p.top)
        .attr('width', p.right - p.left).attr('height', p.bottom - p.top);

    const plot = g.append('g').attr('clip-path', 'url(#clip' + i + ')');

    p.series.forEach(([key, pts]) => {
        plot.selectAll('.pt-' + key)
            .data(pts)
            .enter()
            .append('circle')
            .attr('class', 'pt-' + key)
            .attr('cx', d => x(d[0]))
            .attr('cy', d => y(d[1]))
            .attr('r', 1.5)
            .attr('fill', colors[key])
            .attr('fill-opacity', 0.9);
    });

    // diagonal y = x
    plot.append('line')
        .attr('x1', x(0)).attr('y1', y(0)).attr('x2', x(1)).attr('y2', y(1))
        .attr('stroke', '#000').attr('stroke-width', 1);

    // decision boundaries
    plot.append('line')
        .attr('x1', x(0.5)).attr('x2', x(0.5)).attr('y1', p.top).attr('y2', p.bottom)
        .attr('stroke', '#444').attr('stroke-width', 1.5);
    if (p.hline) {
        plot.append('line')
            .attr('x1', p.left).attr('x2', p.right).attr('y1', y(0.5)).attr('y2', y(0.5))
            .attr('stroke', '#444').attr('stroke-width', 1.5);
    }
    if (p.thresholds) {
        plot.selectAll('.thr')
            .data(p.thresholds)
            .enter()
            .append('line')
            .attr('x1', p.left).attr('x2', p.right)
            .attr('y1', d => y(d)).attr('y2', d => y(d))
            .attr('stroke', '#000').attr('stroke-width', 1)
            .attr('stroke-dasharray', '3.5,2');
    }

    // frame
    g.append('rect')
        .attr('x', p.left).attr('y', p.top)
        .attr('width', p.right - p.left).attr('height', p.bottom - p.top)
        .attr('fill', 'none').attr('stroke', '#666').attr('stroke-width', 1);

    // x axis
    const xAxis = g.append('g')
        .attr('transform', 'translate(0,' + p.bottom + ')')
        .call(d3.axisBottom(x).tickValues(tickPos).tickFormat((d, k) => tickLabels[k]).tickSize(3.5).tickPadding(2.5));
    xAxis.select('.domain').remove();
    xAxis.attr('font-family', 'DejaVu Sans').attr('font-size', 11.5);
    xAxis.selectAll('line').attr('stroke', '#333');
    xAxis.selectAll('text').attr('fill', '#222');

    g.append('text')
        .attr('x', (p.left + p.right) / 2).attr('y', p.bottom + 28)
        .attr('text-anchor', 'middle').attr('font-size', 11.5).attr('fill', '#222')
        .text('Prediction scores ML model');

    // y axis
    let ylabOffset = 23;
    if (p.thresholds) {
        ylabOffset = 29;
        const names = ['prot. group', 'priv. group'];
        p.thresholds.forEach((t, k) => {
            const lab = g.append('text')
                .attr('transform', 'translate(' + (p.left - 15) + ',' + (y(t) - 2) + ') rotate(-90)')
                .attr('text-anchor', 'middle').attr('font-size', 7.5).attr('fill', '#555');
            lab.append('tspan').attr('x', 0).text('Threshold');
            lab.append('tspan').attr('x', 0).attr('dy', 8.5).text(names[k]);
        });
    } else {
        const yAxis = g.append('g')
            .attr('transform', 'translate(' + p.left + ',0)')
            .call(d3.axisLeft(y).tickValues(tickPos).tickFormat((d, k) => tickLabels[k]).tickSize(3.5));
        yAxis.select('.domain').remove();
        yAxis.attr('font-family', 'DejaVu Sans').attr('font-size', 11.5);
        yAxis.selectAll('line').attr('stroke', '#333');
        yAxis.selectAll('text')
            .attr('x', null).attr('dy', null)
            .attr('text-anchor', 'middle')
            .attr('transform', 'translate(-6,0) rotate(-90)')
            .attr('fill', '#222');
    }

    g.append('text')
        .attr('transform', 'translate(' + (p.left - ylabOffset) + ',' + ((p.top + p.bottom) / 2) + ') rotate(-90)')
        .attr('text-anchor', 'middle').attr('font-size', 11.5).attr('fill', '#222')
        .text('Prediction scores mitigation method');

    // title
    g.append('text')
        .attr('x', (p.left + p.right) / 2).attr('y', p.top - 4)
        .attr('text-anchor', 'middle').attr('font-size', 12.5).attr('fill', '#222')
        .text(titles[i]);

    // legend
    const keys = p.series.map(s => s[0]);
    const lg = g.append('g').attr('transform', 'translate(' + p.legend[0] + ',' + p.legend[1] + ')');
    const box = lg.append('rect')
        .attr('rx', 2.5).attr('ry', 2.5)
        .attr('fill', '#fff').attr('fill-opacity', 0.8)
        .attr('stroke', '#d0d0d0').attr('stroke-width', 1);
    let maxW = 0;
    keys.forEach((k, j) => {
        const cy = 9 + j * 17.6;
        lg.append('circle').attr('cx', 16).attr('cy', cy).attr('r', 2.6)
            .attr('fill', colors[k]).attr('fill-opacity', 0.75);
        const t = lg.append('text').attr('x', 37).attr('y', cy + 4)
            .attr('font-size', 11.5).attr('fill', '#222').text(legendText[k]);
        maxW = Math.max(maxW, t.node().getComputedTextLength());
    });
    box.attr('width', 37 + maxW + 6).attr('height', keys.length * 17.6 + 2);

    // caption
    svg.append('text')
        .attr('x', p.cap[0]).attr('y', p.cap[1])
        .attr('text-anchor', 'middle')
        .style('font-family', '"Liberation Serif", "Times New Roman", serif')
        .style('font-size', '22px')
        .attr('fill', '#000')
        .text(captions[i]);
}
</script>
</body>
</html>
